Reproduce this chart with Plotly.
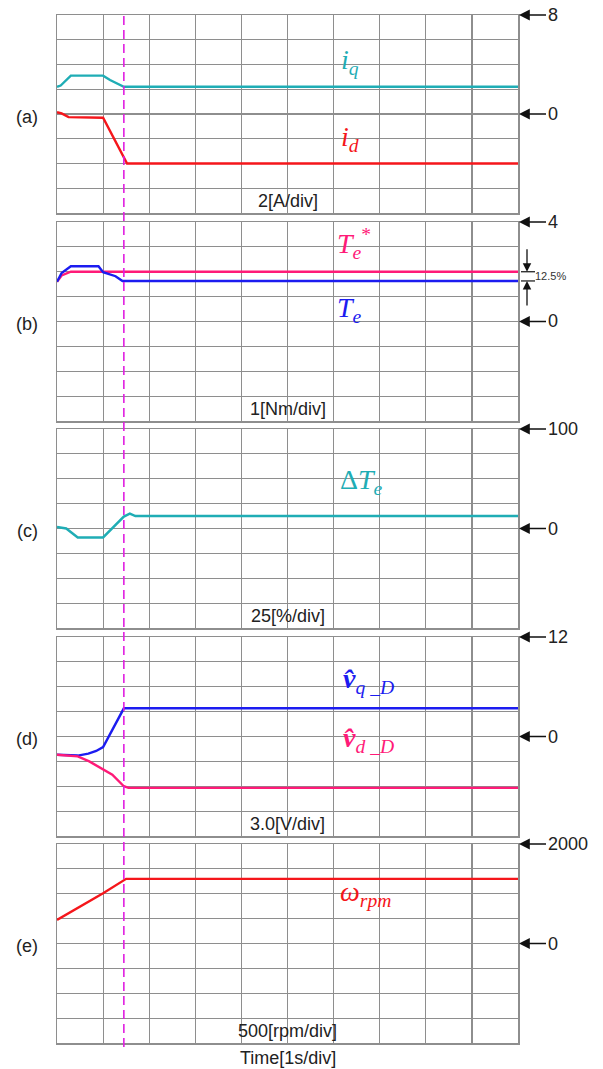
import plotly.graph_objects as go

# ---------------- data (time in s, 1 s/div) ----------------
t_iq = [0, 0.08, 0.3, 1.0, 1.15, 1.45, 10]
iq = [2.2, 2.3, 3.1, 3.1, 2.75, 2.2, 2.2]
t_id = [0, 0.1, 0.25, 1.0, 1.52, 10]
i_d = [0.15, 0.05, -0.25, -0.3, -4.0, -4.0]

t_tref = [0, 0.1, 0.3, 10]
te_ref = [1.6, 1.85, 2.0, 2.0]
t_te = [0, 0.1, 0.3, 0.9, 1.0, 1.27, 1.42, 10]
te = [1.6, 1.95, 2.22, 2.22, 1.98, 1.82, 1.63, 1.63]

t_dte = [0, 0.2, 0.45, 1.0, 1.45, 1.58, 1.7, 10]
dte = [1.5, 0, -9, -9, 12, 15, 12.5, 12.5]

t_vq = [0, 0.45, 0.68, 0.85, 1.0, 1.18, 1.31, 1.45, 10]
vq = [-2.2, -2.3, -2.07, -1.75, -1.28, 0.54, 1.95, 3.4, 3.4]
t_vd = [0, 0.45, 0.7, 1.0, 1.2, 1.45, 1.55, 10]
vd = [-2.2, -2.4, -3.0, -3.9, -4.6, -6.0, -6.2, -6.2]

t_w = [0, 1.0, 1.5, 10]
w = [475, 1010, 1300, 1300]

t_event = 1.45

panel_names = ["(a)", "(b)", "(c)", "(d)", "(e)"]
panel_units = ["2[A/div]", "1[Nm/div]", "25[%/div]", "3.0[V/div]", "500[rpm/div]"]
panel_div = [2, 1, 25, 3, 500]
panel_top_label = ["8", "4", "100", "12", "2000"]

# ---------------- colours ----------------
TEAL = "#1FADB5"
RED = "#F5161B"
PINK = "#FF1A78"
BLUE = "#1C1CF0"
MAG = "#E020E0"
GRID = "#8E8E8E"

W, H = 603, 1069
PL, PR, PT, PB = 57, 518, 15, 1043          # plot area in page pixels
ML, MR, MT, MB = PL, W - PR, PT, H - PB
PH = PB - PT
PW = PR - PL
panel_px = [(15, 213), (222, 421), (429, 628), (637, 836), (844, 1043)]


def py(px):
    return (PB - px) / PH


def pxx(px):
    return (px - PL) / PW


fig = go.Figure()

series = [
    (1, t_iq, iq, TEAL), (1, t_id, i_d, RED),
    (2, t_tref, te_ref, PINK), (2, t_te, te, BLUE),
    (3, t_dte, dte, TEAL),
    (4, t_vq, vq, BLUE), (4, t_vd, vd, PINK),
    (5, t_w, w, RED),
]
for k, xs, ys, c in series:
    sfx = "" if k == 1 else str(k)
    fig.add_trace(go.Scatter(x=xs, y=ys, mode="lines", line=dict(color=c, width=2.4),
                             xaxis="x" + sfx, yaxis="y" + sfx, showlegend=False,
                             hoverinfo="skip"))

layout = dict(width=W, height=H, margin=dict(l=ML, r=MR, t=MT, b=MB),
              paper_bgcolor="white", plot_bgcolor="white", showlegend=False)

annotations = []
shapes = []
for i in range(5):
    k = i + 1
    sfx = "" if k == 1 else str(k)
    top, bot = panel_px[i]
    d = panel_div[i]
    layout["xaxis" + sfx] = dict(domain=[0, 1], range=[0, 10], dtick=1, tick0=0,
                                 showgrid=True, gridcolor=GRID, gridwidth=1.2,
                                 showline=True, linecolor=GRID, linewidth=1.5, mirror=True,
                                 showticklabels=False, ticks="", zeroline=False,
                                 anchor="y" + sfx, fixedrange=True)
    layout["yaxis" + sfx] = dict(domain=[py(bot), py(top)], range=[-4 * d, 4 * d], dtick=d,
                                 tick0=0, showgrid=True, gridcolor=GRID, gridwidth=1.2,
                                 showline=True, linecolor=GRID, linewidth=1.5, mirror=True,
                                 showticklabels=False, ticks="", zeroline=False,
                                 anchor="x" + sfx, fixedrange=True)
    # panel name
    annotations.append(dict(text=panel_names[i], xref="paper", yref="y" + sfx,
                            x=pxx(27), y=-0.12 * d, showarrow=False,
                            xanchor="center", yanchor="middle",
                            font=dict(family="Liberation Sans", size=18, color="#222")))
    # units text
    annotations.append(dict(text=panel_units[i], xref="paper", yref="y" + sfx,
                            x=0.5, y=-3.5 * d, showarrow=False,
                            xanchor="center", yanchor="middle",
                            font=dict(family="Liberation Sans", size=18, color="#222")))
    # right arrows
    for val, lab in [(4 * d, panel_top_label[i]), (0, "0")]:
        annotations.append(dict(text=lab, xref="paper", yref="y" + sfx, x=pxx(519),
                                y=val, showarrow=True, arrowhead=2, arrowsize=1.35, arrowwidth=1.6,
                                arrowcolor="#111", ax=27, ay=0, xanchor="left",
                                font=dict(family="Liberation Sans", size=18, color="#222")))

annotations.append(dict(text="Time[1s/div]", xref="paper", yref="paper", x=0.5,
                        y=py(1058), showarrow=False, xanchor="center", yanchor="middle",
                        font=dict(family="Liberation Sans", size=18, color="#222")))

SERIF = "Liberation Serif"
labels = [
    ("", "<i>i</i><sub><i>q</i></sub>", 6.35, 4.25, TEAL),
    ("", "<i>i</i><sub><i>d</i></sub>", 6.35, -2.0, RED),
    ("2", "<i>T</i><sub><i>e</i></sub><sup>*</sup>", 6.45, 3.15, PINK),
    ("2", "<i>T</i><sub><i>e</i></sub>", 6.35, 0.5, BLUE),
    ("3", "Δ<i>T</i><sub><i>e</i></sub>", 6.6, 47, TEAL),
    ("4", "<b><i>v̂</i></b><sub><i>q _D</i></sub>", 6.75, 6.8, BLUE),
    ("4", "<b><i>v̂</i></b><sub><i>d _D</i></sub>", 6.75, -0.4, PINK),
    ("5", "<i>ω</i><sub><i>rpm</i></sub>", 6.7, 1000, RED),
]
for sfx, txt, x, y, c in labels:
    annotations.append(dict(text=txt, xref="x" + sfx, yref="y" + sfx, x=x, y=y,
                            showarrow=False, font=dict(family=SERIF, size=28, color=c)))

# 12.5 % marker in panel (b)
xa = pxx(527)
annotations.append(dict(text="", xref="paper", yref="y2", x=xa, y=te_ref[-1], showarrow=True,
                        arrowhead=2, arrowsize=1.3, arrowwidth=1.3, arrowcolor="#111",
                        ax=0, ay=-24))
annotations.append(dict(text="", xref="paper", yref="y2", x=xa, y=te[-1], showarrow=True,
                        arrowhead=2, arrowsize=1.3, arrowwidth=1.3, arrowcolor="#111",
                        ax=0, ay=26))
for v in (te_ref[-1], te[-1]):
    shapes.append(dict(type="line", xref="paper", yref="y2",
                       x0=pxx(521), x1=pxx(535),
                       y0=v, y1=v, line=dict(color="#111", width=1.2)))
annotations.append(dict(text="12.5%", xref="paper", yref="y2", x=pxx(533),
                        y=(te_ref[-1] + te[-1]) / 2, xanchor="left", yanchor="middle",
                        showarrow=False,
                        font=dict(family="Liberation Sans", size=11, color="#333")))

# event marker dashed line through all panels
shapes.append(dict(type="line", xref="x", yref="paper", x0=t_event, x1=t_event,
                   y0=py(1047), y1=1.0, line=dict(color=MAG, width=1.6, dash="9px,5px")))

layout["annotations"] = annotations
layout["shapes"] = shapes
fig.update_layout(**layout)
fig.write_html("out.html", config={"displayModeBar": False, "staticPlot": True},
               post_script="document.body.style.margin='0';document.body.style.overflow='hidden';")
